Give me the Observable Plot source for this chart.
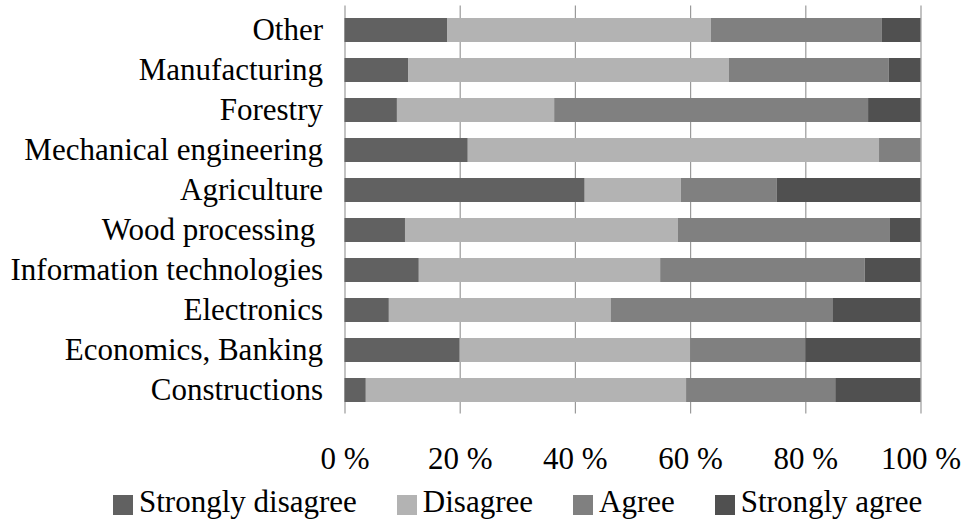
<!DOCTYPE html>
<html>
<head>
<meta charset="utf-8">
<script src="https://cdn.jsdelivr.net/npm/d3@7"></script>
<script src="https://cdn.jsdelivr.net/npm/@observablehq/plot@0.6"></script>
<style>
  html, body { margin: 0; padding: 0; background: #fff; }
  #chart { width: 965px; height: 520px; position: relative; font-family: "Liberation Serif", Tinos, "Times New Roman", Times, "Nimbus Roman", "DejaVu Serif", serif; }
  #chart svg text { font-family: "Liberation Serif", Tinos, "Times New Roman", Times, "Nimbus Roman", "DejaVu Serif", serif; }
  #legend { position: absolute; left: 113px; top: 486px; display: flex; align-items: center; font-size: 31px; line-height: 31px; color: #000; }
  #legend .item { display: flex; align-items: center; margin-right: 40px; }
  #legend .sw { width: 20px; height: 20px; margin-right: 6px; position: relative; top: 3px; }
</style>
</head>
<body>
<div id="chart"></div>
<script>
// Sectors, listed top to bottom
const sectors = [
  "Other",
  "Manufacturing",
  "Forestry",
  "Mechanical engineering",
  "Agriculture",
  "Wood processing\u00a0",
  "Information technologies",
  "Electronics",
  "Economics, Banking",
  "Constructions"
];

// Share of answers per sector (%), same order as sectors
const stronglyDisagree = [17.8, 11.1, 9.1, 21.4, 41.7, 10.5, 12.9, 7.7, 20, 3.7];
const disagree         = [45.8, 55.6, 27.3, 71.4, 16.7, 47.4, 41.9, 38.5, 40, 55.6];
const agree            = [29.7, 27.8, 54.5, 7.2, 16.6, 36.8, 35.5, 38.5, 20, 25.9];
const stronglyAgree    = [6.7, 5.5, 9.1, 0, 25, 5.3, 9.7, 15.3, 20, 14.8];

const responses = ["Strongly disagree", "Disagree", "Agree", "Strongly agree"];
const colors = ["#616161", "#b3b3b3", "#808080", "#505050"];
const xTicks = [0, 20, 40, 60, 80, 100];

const series = [stronglyDisagree, disagree, agree, stronglyAgree];
const rows = [];
responses.forEach((r, i) => {
  sectors.forEach((s, j) => rows.push({sector: s, response: r, value: series[i][j]}));
});

const font = "'Liberation Serif', Tinos, 'Times New Roman', Times, 'Nimbus Roman', 'DejaVu Serif', serif";

const plot = Plot.plot({
  width: 965,
  height: 475,
  marginLeft: 344.5,
  marginRight: 44.5,
  marginTop: 5.4,
  marginBottom: 61.6,
  style: {fontFamily: font, fontSize: "31px", color: "#000", background: "#fff"},
  x: {domain: [0, 100]},
  y: {domain: sectors, paddingInner: 0.41, paddingOuter: 0.205},
  color: {domain: responses, range: colors},
  marks: [
    Plot.gridX(xTicks, {stroke: "#9a9a9a", strokeOpacity: 1, strokeWidth: 1.2}),
    Plot.barX(rows, Plot.stackX({x: "value", y: "sector", fill: "response", order: responses})),
    Plot.axisX({ticks: xTicks, tickSize: 0, tickPadding: 33, tickFormat: d => d + " %", label: null, fontSize: 31}),
    Plot.axisY({tickSize: 0, tickPadding: 22, label: null, fontSize: 31})
  ]
});

const chart = document.getElementById("chart");
chart.appendChild(plot);

// Legend below the chart
const legend = document.createElement("div");
legend.id = "legend";
responses.forEach((r, i) => {
  const item = document.createElement("div");
  item.className = "item";
  const sw = document.createElement("span");
  sw.className = "sw";
  sw.style.background = colors[i];
  const label = document.createElement("span");
  label.textContent = r;
  item.appendChild(sw);
  item.appendChild(label);
  legend.appendChild(item);
});
chart.appendChild(legend);
</script>
</body>
</html>
